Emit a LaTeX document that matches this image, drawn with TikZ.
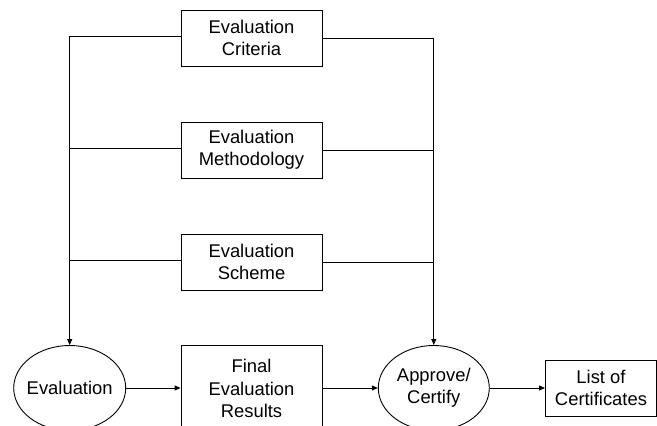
\documentclass[tikz,border=0pt]{standalone}
\usepackage{fontspec}
\setmainfont{Liberation Sans}
\usetikzlibrary{shapes.geometric,arrows.meta}
\begin{document}
\begin{tikzpicture}[x=1pt,y=-1pt,
  every node/.style={font=\fontsize{18.4}{22.3}\selectfont, align=center, inner sep=0pt},
  boxnode/.style={draw, line width=0.9pt, rectangle, minimum width=141pt, minimum height=56pt},
  ovalnode/.style={draw, line width=0.9pt, ellipse, inner sep=-12pt, minimum width=112pt, minimum height=85pt},
  conn/.style={line width=0.9pt},
  arr/.style={conn, -{Triangle[length=6pt,width=5pt]}}]
\useasboundingbox (0,0) rectangle (657,426);
\clip (0,0) rectangle (657,426);
\node[boxnode] (crit) at (251.5,38) {Evaluation\\Criteria};
\node[boxnode] (meth) at (251.5,150) {Evaluation\\Methodology};
\node[boxnode] (sch) at (251.5,262) {Evaluation\\Scheme};
\node[ovalnode] (eval) at (69.7,388) {Evaluation};
\node[boxnode, minimum height=86pt] (fer) at (251.5,388.5) {Final\\Evaluation\\Results};
\node[ovalnode, minimum width=111pt] (appr) at (433.8,388) {Approve/\\Certify};
\node[boxnode, minimum width=111pt] (loc) at (601,388) {List of\\Certificates};
% left feed
\draw[arr] ([yshift=2pt]crit.west) -| (eval.north);
\draw[conn] ([yshift=2pt]meth.west) -- ([yshift=2pt]meth.west -| eval.north);
\draw[conn] ([yshift=2pt]sch.west) -- ([yshift=2pt]sch.west -| eval.north);
% right feed
\draw[arr] (crit.east) -| (appr.north);
\draw[conn] (meth.east) -- (meth.east -| appr.north);
\draw[conn] (sch.east) -- (sch.east -| appr.north);
% bottom flow
\draw[arr] (eval.east) -- (eval.east -| fer.west);
\draw[arr] (fer.east |- appr.west) -- (appr.west);
\draw[arr] (appr.east) -- (loc.west);
\end{tikzpicture}
\end{document}
